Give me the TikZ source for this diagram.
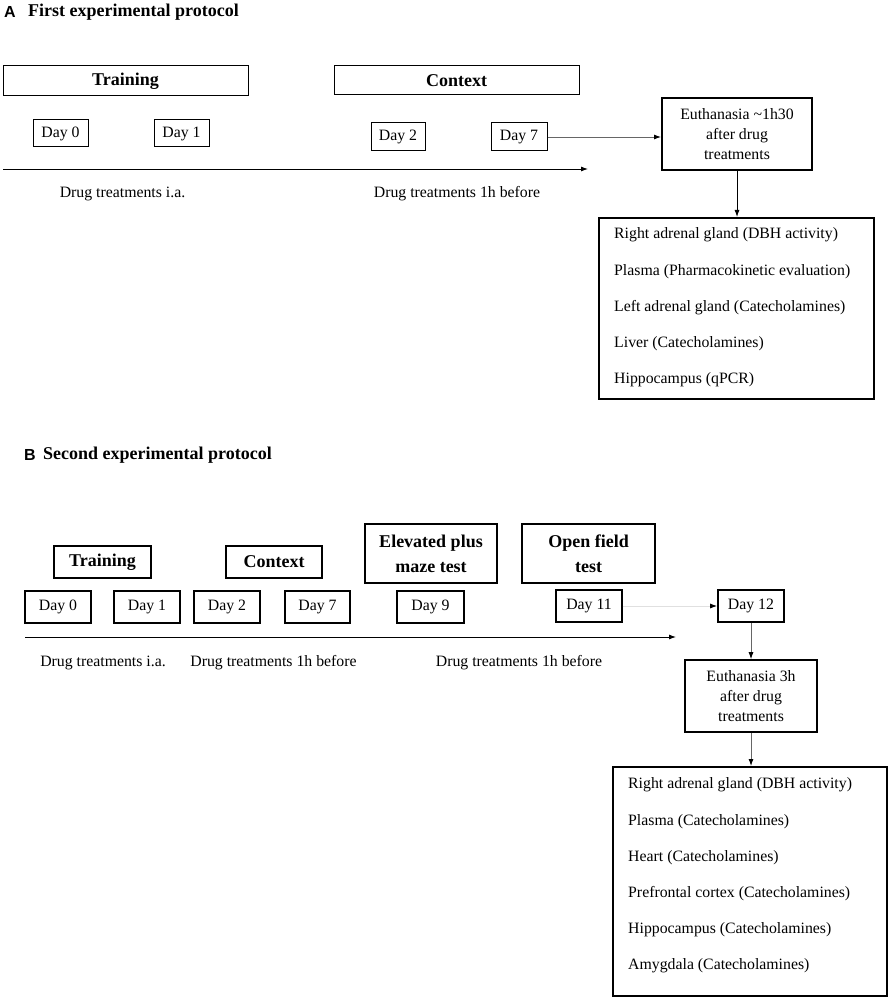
\documentclass[tikz,border=0pt]{standalone}
\usepackage{fontspec}
\setmainfont{Liberation Serif}
\newfontfamily\labfont{Liberation Sans}
\usetikzlibrary{arrows.meta}
\begin{document}
\begin{tikzpicture}[x=1pt,y=-1pt,
  every node/.style={inner sep=0pt, font=\fontsize{15.8}{20}\selectfont},
  thinbox/.style={draw, line width=1pt},
  thickbox/.style={draw, line width=2pt},
  midbox/.style={draw, line width=1.6pt},
  hdr/.style={font=\fontsize{18}{25}\selectfont\bfseries, align=center},
  title/.style={font=\fontsize{18}{22}\selectfont\bfseries, anchor=west},
  plab/.style={font=\fontsize{16}{20}\selectfont\labfont\bfseries},
  multi/.style={align=center, font=\fontsize{15.8}{20}\selectfont},
  item/.style={anchor=west},
  arr/.style={line width=0.9pt, -{Latex[length=7pt,width=5pt]}},
  garr/.style={line width=0.9pt, draw=black!60, -{Latex[length=7pt,width=5pt,color=black]}},
  larr/.style={line width=1pt, draw=black!12, -{Latex[length=7pt,width=5pt,color=black]}}]
\useasboundingbox (0,0) rectangle (891,1000);

% ---------- Panel A ----------
\node[plab] (labA) at (10,12) {A};
\node[title] (ttlA) at (28,12) {First experimental protocol};

\node[thinbox, minimum width=245pt, minimum height=30pt, font=\fontsize{18}{22}\selectfont\bfseries] (trA) at (125.5,81) {Training};
\node[thinbox, minimum width=245pt, minimum height=29pt, font=\fontsize{18}{22}\selectfont\bfseries] (ctA) at (456.5,80.5) {Context};

\node[thinbox, minimum width=55pt, minimum height=27pt] (d0A) at (60.5,133.5) {Day 0};
\node[thinbox, minimum width=55pt, minimum height=27pt] (d1A) at (181.5,133.5) {Day 1};
\node[thinbox, minimum width=54pt, minimum height=28pt] (d2A) at (398,137) {Day 2};
\node[thinbox, minimum width=56pt, minimum height=28pt] (d7A) at (519,137) {Day 7};

\node[thickbox, multi, minimum width=150pt, minimum height=72pt] (euA) at (737,134) {Euthanasia \textasciitilde1h30\\after drug\\treatments};

\coordinate (tlA0) at (3,169);
\coordinate (tlA1) at (588,169);
\draw[arr] (tlA0) -- (tlA1);

\node (drA1) at (122.5,194) {Drug treatments i.a.};
\node (drA2) at (457,194) {Drug treatments 1h before};

\node[thickbox, minimum width=275pt, minimum height=181pt] (resA) at (736.5,308.5) {};
\node[item] (rA1) at (614,235) {Right adrenal gland (DBH activity)};
\node[item] (rA2) at (614,272) {Plasma (Pharmacokinetic evaluation)};
\node[item] (rA3) at (614,308) {Left adrenal gland (Catecholamines)};
\node[item] (rA4) at (614,344) {Liver (Catecholamines)};
\node[item] (rA5) at (614,380) {Hippocampus (qPCR)};

\draw[garr] (d7A.east) -- (d7A.east -| euA.west);
\draw[arr] (euA.south) -- (euA.south |- resA.north);

% ---------- Panel B ----------
\node[plab] (labB) at (30,455) {B};
\node[title] (ttlB) at (43,455) {Second experimental protocol};

\node[midbox, hdr, minimum width=97pt, minimum height=32pt] (trB) at (102.5,562) {Training};
\node[midbox, hdr, minimum width=96pt, minimum height=32pt] (ctB) at (274,562) {Context};
\node[midbox, hdr, minimum width=132pt, minimum height=59pt] (epB) at (431,553.5) {Elevated plus\\maze test};
\node[midbox, hdr, minimum width=133pt, minimum height=59pt] (ofB) at (588.5,553.5) {Open field\\test};

\node[midbox, minimum width=66pt, minimum height=32pt] (d0B) at (58,607) {Day 0};
\node[midbox, minimum width=66pt, minimum height=32pt] (d1B) at (147,607) {Day 1};
\node[midbox, minimum width=66pt, minimum height=32pt] (d2B) at (227,607) {Day 2};
\node[midbox, minimum width=65pt, minimum height=32pt] (d7B) at (317.5,607) {Day 7};
\node[midbox, minimum width=67pt, minimum height=32pt] (d9B) at (430.5,607) {Day 9};
\node[midbox, minimum width=66pt, minimum height=32pt] (d11B) at (589,606) {Day 11};
\node[midbox, minimum width=66pt, minimum height=32pt] (d12B) at (751,606) {Day 12};

\coordinate (tlB0) at (25,637);
\coordinate (tlB1) at (676,637);
\draw[arr] (tlB0) -- (tlB1);

\node (drB1) at (103,663) {Drug treatments i.a.};
\node (drB2) at (273.5,663) {Drug treatments 1h before};
\node (drB3) at (519,663) {Drug treatments 1h before};

\node[midbox, multi, minimum width=132pt, minimum height=72pt] (euB) at (751,696) {Euthanasia 3h\\after drug\\treatments};

\node[thickbox, minimum width=274pt, minimum height=229pt] (resB) at (750,881.5) {};
\node[item] (rB1) at (628,785) {Right adrenal gland (DBH activity)};
\node[item] (rB2) at (628,822) {Plasma (Catecholamines)};
\node[item] (rB3) at (628,858) {Heart (Catecholamines)};
\node[item] (rB4) at (628,894) {Prefrontal cortex (Catecholamines)};
\node[item] (rB5) at (628,930) {Hippocampus (Catecholamines)};
\node[item] (rB6) at (628,966) {Amygdala (Catecholamines)};

\draw[larr] (d11B.east) -- (d11B.east -| d12B.west);
\draw[garr] (d12B.south) -- (euB.north);
\draw[garr] (euB.south) -- (euB.south |- resB.north);
\end{tikzpicture}
\end{document}
